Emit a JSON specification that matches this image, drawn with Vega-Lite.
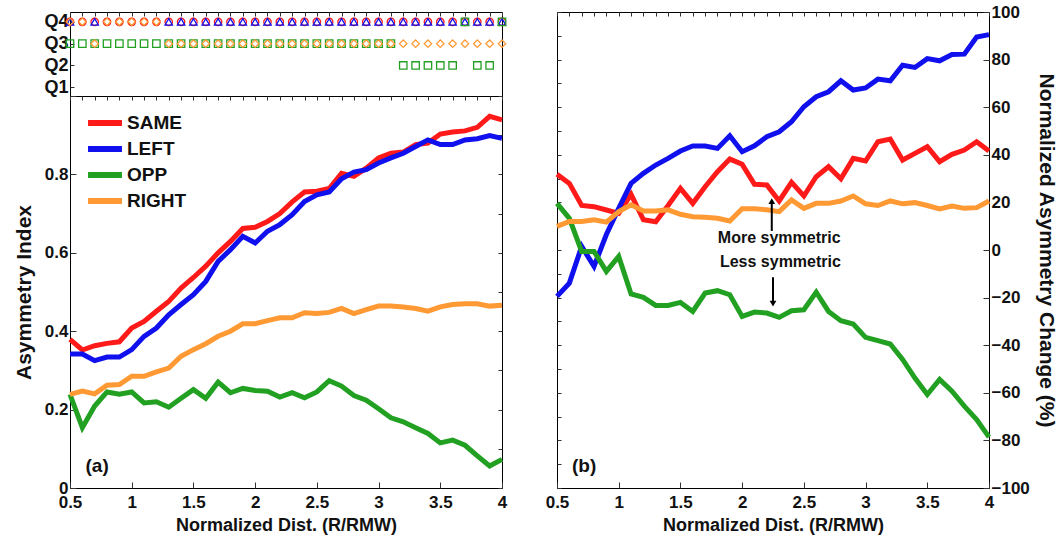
{
  "$schema": "https://vega.github.io/schema/vega-lite/v6.json",
  "autosize": {"type": "pad"},
  "padding": {"left": 12, "top": 2, "right": 4, "bottom": 3},
  "background": "white",
  "config": {
    "font": "Liberation Sans",
    "view": {"stroke": "#000", "strokeWidth": 1},
    "axis": {
      "labelFont": "Liberation Sans", "labelFontWeight": "bold", "labelFontSize": 17, "labelColor": "#111",
      "titleFont": "Liberation Sans", "titleFontWeight": "bold", "titleFontSize": 18, "titleColor": "#111",
      "grid": false, "domain": false, "tickColor": "#333", "tickSize": -6, "labelPadding": 8, "labelFlush": false
    },
    "axisX": {"labelPadding": 12},
    "axisY": {"titleFontSize": 21},
    "legend": {"labelFont": "Liberation Sans"}
  },
  "datasets": {
    "a": [
      {"x": 0.5, "SAME": 0.379, "LEFT": 0.342, "OPP": 0.239, "RIGHT": 0.239},
      {"x": 0.6, "SAME": 0.352, "LEFT": 0.342, "OPP": 0.154, "RIGHT": 0.247},
      {"x": 0.7, "SAME": 0.363, "LEFT": 0.325, "OPP": 0.209, "RIGHT": 0.240},
      {"x": 0.8, "SAME": 0.369, "LEFT": 0.334, "OPP": 0.245, "RIGHT": 0.262},
      {"x": 0.9, "SAME": 0.373, "LEFT": 0.334, "OPP": 0.239, "RIGHT": 0.264},
      {"x": 1.0, "SAME": 0.408, "LEFT": 0.353, "OPP": 0.245, "RIGHT": 0.285},
      {"x": 1.1, "SAME": 0.425, "LEFT": 0.387, "OPP": 0.217, "RIGHT": 0.285},
      {"x": 1.2, "SAME": 0.451, "LEFT": 0.408, "OPP": 0.220, "RIGHT": 0.296},
      {"x": 1.3, "SAME": 0.476, "LEFT": 0.442, "OPP": 0.206, "RIGHT": 0.306},
      {"x": 1.4, "SAME": 0.510, "LEFT": 0.468, "OPP": 0.229, "RIGHT": 0.336},
      {"x": 1.5, "SAME": 0.537, "LEFT": 0.493, "OPP": 0.251, "RIGHT": 0.353},
      {"x": 1.6, "SAME": 0.566, "LEFT": 0.527, "OPP": 0.229, "RIGHT": 0.368},
      {"x": 1.7, "SAME": 0.600, "LEFT": 0.578, "OPP": 0.270, "RIGHT": 0.387},
      {"x": 1.8, "SAME": 0.629, "LEFT": 0.608, "OPP": 0.243, "RIGHT": 0.400},
      {"x": 1.9, "SAME": 0.662, "LEFT": 0.642, "OPP": 0.254, "RIGHT": 0.419},
      {"x": 2.0, "SAME": 0.665, "LEFT": 0.625, "OPP": 0.249, "RIGHT": 0.419},
      {"x": 2.1, "SAME": 0.680, "LEFT": 0.655, "OPP": 0.247, "RIGHT": 0.427},
      {"x": 2.2, "SAME": 0.700, "LEFT": 0.672, "OPP": 0.232, "RIGHT": 0.434},
      {"x": 2.3, "SAME": 0.730, "LEFT": 0.697, "OPP": 0.243, "RIGHT": 0.434},
      {"x": 2.4, "SAME": 0.755, "LEFT": 0.731, "OPP": 0.230, "RIGHT": 0.447},
      {"x": 2.5, "SAME": 0.757, "LEFT": 0.748, "OPP": 0.245, "RIGHT": 0.445},
      {"x": 2.6, "SAME": 0.764, "LEFT": 0.755, "OPP": 0.274, "RIGHT": 0.448},
      {"x": 2.7, "SAME": 0.803, "LEFT": 0.789, "OPP": 0.260, "RIGHT": 0.458},
      {"x": 2.8, "SAME": 0.795, "LEFT": 0.806, "OPP": 0.236, "RIGHT": 0.445},
      {"x": 2.9, "SAME": 0.816, "LEFT": 0.812, "OPP": 0.224, "RIGHT": 0.455},
      {"x": 3.0, "SAME": 0.842, "LEFT": 0.829, "OPP": 0.202, "RIGHT": 0.464},
      {"x": 3.1, "SAME": 0.854, "LEFT": 0.842, "OPP": 0.179, "RIGHT": 0.464},
      {"x": 3.2, "SAME": 0.857, "LEFT": 0.854, "OPP": 0.169, "RIGHT": 0.462},
      {"x": 3.3, "SAME": 0.876, "LEFT": 0.871, "OPP": 0.154, "RIGHT": 0.458},
      {"x": 3.4, "SAME": 0.880, "LEFT": 0.888, "OPP": 0.139, "RIGHT": 0.451},
      {"x": 3.5, "SAME": 0.903, "LEFT": 0.876, "OPP": 0.115, "RIGHT": 0.462},
      {"x": 3.6, "SAME": 0.908, "LEFT": 0.876, "OPP": 0.122, "RIGHT": 0.468},
      {"x": 3.7, "SAME": 0.911, "LEFT": 0.888, "OPP": 0.109, "RIGHT": 0.470},
      {"x": 3.8, "SAME": 0.920, "LEFT": 0.891, "OPP": 0.082, "RIGHT": 0.470},
      {"x": 3.9, "SAME": 0.948, "LEFT": 0.899, "OPP": 0.056, "RIGHT": 0.464},
      {"x": 4.0, "SAME": 0.939, "LEFT": 0.892, "OPP": 0.073, "RIGHT": 0.466}
    ],
    "b": [
      {"x": 0.5, "SAME": 31.8, "LEFT": -19.5, "OPP": 19.6, "RIGHT": 9.9},
      {"x": 0.6, "SAME": 28.0, "LEFT": -13.9, "OPP": 13.3, "RIGHT": 12.0},
      {"x": 0.7, "SAME": 18.7, "LEFT": 1.5, "OPP": -0.6, "RIGHT": 12.0},
      {"x": 0.8, "SAME": 18.2, "LEFT": -6.9, "OPP": -0.6, "RIGHT": 12.7},
      {"x": 0.9, "SAME": 16.8, "LEFT": 6.5, "OPP": -9.0, "RIGHT": 11.7},
      {"x": 1.0, "SAME": 15.4, "LEFT": 17.5, "OPP": -2.7, "RIGHT": 16.1},
      {"x": 1.1, "SAME": 23.4, "LEFT": 28.0, "OPP": -18.5, "RIGHT": 19.0},
      {"x": 1.2, "SAME": 12.7, "LEFT": 32.2, "OPP": -19.9, "RIGHT": 16.4},
      {"x": 1.3, "SAME": 11.9, "LEFT": 35.7, "OPP": -23.3, "RIGHT": 16.4},
      {"x": 1.4, "SAME": 18.7, "LEFT": 38.5, "OPP": -23.3, "RIGHT": 16.9},
      {"x": 1.5, "SAME": 25.9, "LEFT": 41.6, "OPP": -22.0, "RIGHT": 15.0},
      {"x": 1.6, "SAME": 19.6, "LEFT": 43.7, "OPP": -25.8, "RIGHT": 14.0},
      {"x": 1.7, "SAME": 26.6, "LEFT": 43.7, "OPP": -18.1, "RIGHT": 13.8},
      {"x": 1.8, "SAME": 32.9, "LEFT": 42.7, "OPP": -17.1, "RIGHT": 13.3},
      {"x": 1.9, "SAME": 38.2, "LEFT": 48.0, "OPP": -18.8, "RIGHT": 12.2},
      {"x": 2.0, "SAME": 36.0, "LEFT": 41.3, "OPP": -27.9, "RIGHT": 17.3},
      {"x": 2.1, "SAME": 27.6, "LEFT": 43.8, "OPP": -26.1, "RIGHT": 17.3},
      {"x": 2.2, "SAME": 27.3, "LEFT": 47.6, "OPP": -26.5, "RIGHT": 16.9},
      {"x": 2.3, "SAME": 20.6, "LEFT": 49.7, "OPP": -28.3, "RIGHT": 16.1},
      {"x": 2.4, "SAME": 28.4, "LEFT": 53.9, "OPP": -25.5, "RIGHT": 21.0},
      {"x": 2.5, "SAME": 22.7, "LEFT": 60.2, "OPP": -25.1, "RIGHT": 17.5},
      {"x": 2.6, "SAME": 30.8, "LEFT": 64.4, "OPP": -17.7, "RIGHT": 19.6},
      {"x": 2.7, "SAME": 35.0, "LEFT": 66.5, "OPP": -25.8, "RIGHT": 19.6},
      {"x": 2.8, "SAME": 29.9, "LEFT": 71.1, "OPP": -29.7, "RIGHT": 20.6},
      {"x": 2.9, "SAME": 38.5, "LEFT": 67.2, "OPP": -31.1, "RIGHT": 22.7},
      {"x": 3.0, "SAME": 37.4, "LEFT": 68.1, "OPP": -36.7, "RIGHT": 19.4},
      {"x": 3.1, "SAME": 45.5, "LEFT": 71.8, "OPP": -38.1, "RIGHT": 18.7},
      {"x": 3.2, "SAME": 46.6, "LEFT": 71.1, "OPP": -39.5, "RIGHT": 20.6},
      {"x": 3.3, "SAME": 37.8, "LEFT": 77.6, "OPP": -46.0, "RIGHT": 19.4},
      {"x": 3.4, "SAME": 40.6, "LEFT": 76.7, "OPP": -53.8, "RIGHT": 19.9},
      {"x": 3.5, "SAME": 43.4, "LEFT": 80.4, "OPP": -60.7, "RIGHT": 18.7},
      {"x": 3.6, "SAME": 37.1, "LEFT": 79.5, "OPP": -54.4, "RIGHT": 17.3},
      {"x": 3.7, "SAME": 40.2, "LEFT": 82.1, "OPP": -59.3, "RIGHT": 18.5},
      {"x": 3.8, "SAME": 42.0, "LEFT": 82.3, "OPP": -65.6, "RIGHT": 17.5},
      {"x": 3.9, "SAME": 45.5, "LEFT": 89.5, "OPP": -71.2, "RIGHT": 17.8},
      {"x": 4.0, "SAME": 41.6, "LEFT": 90.5, "OPP": -78.6, "RIGHT": 20.6}
    ],
    "q": [
      {"x": 0.5, "SAME": 4, "LEFT": 4, "OPP": 3, "RIGHT": 4},
      {"x": 0.6, "SAME": 4, "LEFT": null, "OPP": 3, "RIGHT": 4},
      {"x": 0.7, "SAME": 4, "LEFT": 4, "OPP": 3, "RIGHT": 3},
      {"x": 0.8, "SAME": 4, "LEFT": null, "OPP": 3, "RIGHT": 4},
      {"x": 0.9, "SAME": 4, "LEFT": null, "OPP": 3, "RIGHT": 4},
      {"x": 1.0, "SAME": 4, "LEFT": null, "OPP": 3, "RIGHT": 4},
      {"x": 1.1, "SAME": 4, "LEFT": null, "OPP": 3, "RIGHT": 4},
      {"x": 1.2, "SAME": 4, "LEFT": null, "OPP": 3, "RIGHT": 4},
      {"x": 1.3, "SAME": 4, "LEFT": 4, "OPP": 3, "RIGHT": 3},
      {"x": 1.4, "SAME": 4, "LEFT": 4, "OPP": 3, "RIGHT": 3},
      {"x": 1.5, "SAME": 4, "LEFT": 4, "OPP": 3, "RIGHT": 3},
      {"x": 1.6, "SAME": 4, "LEFT": 4, "OPP": 3, "RIGHT": 3},
      {"x": 1.7, "SAME": 4, "LEFT": 4, "OPP": 3, "RIGHT": 3},
      {"x": 1.8, "SAME": 4, "LEFT": 4, "OPP": 3, "RIGHT": 3},
      {"x": 1.9, "SAME": 4, "LEFT": 4, "OPP": 3, "RIGHT": 3},
      {"x": 2.0, "SAME": 4, "LEFT": 4, "OPP": 3, "RIGHT": 3},
      {"x": 2.1, "SAME": 4, "LEFT": 4, "OPP": 3, "RIGHT": 3},
      {"x": 2.2, "SAME": 4, "LEFT": 4, "OPP": 3, "RIGHT": 3},
      {"x": 2.3, "SAME": 4, "LEFT": 4, "OPP": 3, "RIGHT": 3},
      {"x": 2.4, "SAME": 4, "LEFT": 4, "OPP": 3, "RIGHT": 3},
      {"x": 2.5, "SAME": 4, "LEFT": 4, "OPP": 3, "RIGHT": 3},
      {"x": 2.6, "SAME": 4, "LEFT": 4, "OPP": 3, "RIGHT": 3},
      {"x": 2.7, "SAME": 4, "LEFT": 4, "OPP": 3, "RIGHT": 3},
      {"x": 2.8, "SAME": 4, "LEFT": 4, "OPP": 3, "RIGHT": 3},
      {"x": 2.9, "SAME": 4, "LEFT": 4, "OPP": 3, "RIGHT": 3},
      {"x": 3.0, "SAME": 4, "LEFT": 4, "OPP": 3, "RIGHT": 3},
      {"x": 3.1, "SAME": 4, "LEFT": 4, "OPP": 3, "RIGHT": 3},
      {"x": 3.2, "SAME": 4, "LEFT": 4, "OPP": 2, "RIGHT": 3},
      {"x": 3.3, "SAME": 4, "LEFT": 4, "OPP": 2, "RIGHT": 3},
      {"x": 3.4, "SAME": 4, "LEFT": 4, "OPP": 2, "RIGHT": 3},
      {"x": 3.5, "SAME": 4, "LEFT": 4, "OPP": 2, "RIGHT": 3},
      {"x": 3.6, "SAME": 4, "LEFT": 4, "OPP": 2, "RIGHT": 3},
      {"x": 3.7, "SAME": 4, "LEFT": 4, "OPP": 4, "RIGHT": 3},
      {"x": 3.8, "SAME": 4, "LEFT": 4, "OPP": 2, "RIGHT": 3},
      {"x": 3.9, "SAME": 4, "LEFT": 4, "OPP": 2, "RIGHT": 3},
      {"x": 4.0, "SAME": 4, "LEFT": 4, "OPP": 4, "RIGHT": 3}
    ]
  },
  "spacing": 31,
  "resolve": {"scale": {"color": "independent", "shape": "independent", "x": "independent", "y": "independent"}},
  "hconcat": [
    {
      "spacing": 0,
      "bounds": "flush",
      "resolve": {"scale": {"color": "independent", "shape": "independent", "x": "independent", "y": "independent"}},
      "vconcat": [
        {
          "width": 432,
          "height": 84,
          "data": {"name": "q"},
          "transform": [
            {"fold": ["SAME", "LEFT", "OPP", "RIGHT"], "as": ["series", "q"]},
            {"filter": "isValid(datum.q)"}
          ],
          "mark": {"type": "point", "filled": false, "size": 55, "strokeWidth": 1.3, "opacity": 1},
          "encoding": {
            "x": {"field": "x", "type": "quantitative", "scale": {"domain": [0.5, 4], "nice": false, "zero": false},
                  "axis": {"orient": "top", "labels": false, "title": null, "tickSize": -4,
                           "values": [0.5, 0.6, 0.7, 0.8, 0.9, 1, 1.1, 1.2, 1.3, 1.4, 1.5, 1.6, 1.7, 1.8, 1.9, 2, 2.1, 2.2, 2.3, 2.4, 2.5, 2.6, 2.7, 2.8, 2.9, 3, 3.1, 3.2, 3.3, 3.4, 3.5, 3.6, 3.7, 3.8, 3.9, 4]}},
            "y": {"field": "q", "type": "quantitative", "scale": {"domain": [0.6, 4.45], "nice": false, "zero": false},
                  "axis": {"values": [1, 2, 3, 4], "labelExpr": "'Q' + datum.value", "title": null, "labelFontSize": 18, "labelPadding": 6, "tickSize": -4}},
            "color": {"field": "series", "type": "nominal", "legend": null,
                      "scale": {"domain": ["SAME", "LEFT", "OPP", "RIGHT"], "range": ["#ff1a1a", "#1010ee", "#22a022", "#ff9933"]}},
            "shape": {"field": "series", "type": "nominal", "legend": null,
                      "scale": {"domain": ["SAME", "LEFT", "OPP", "RIGHT"], "range": ["circle", "triangle-up", "square", "diamond"]}}
          }
        },
        {
          "width": 432,
          "height": 392,
          "layer": [
            {
              "data": {"name": "a"},
              "transform": [{"fold": ["SAME", "LEFT", "OPP", "RIGHT"], "as": ["series", "value"]}],
              "mark": {"type": "line", "strokeWidth": 5, "strokeJoin": "miter"},
              "encoding": {
                "x": {"field": "x", "type": "quantitative", "scale": {"domain": [0.5, 4], "nice": false, "zero": false},
                      "axis": {"values": [0.5, 1, 1.5, 2, 2.5, 3, 3.5, 4], "format": "~g", "title": "Normalized Dist. (R/RMW)", "titlePadding": 6}},
                "y": {"field": "value", "type": "quantitative", "scale": {"domain": [0, 1], "nice": false},
                      "axis": {"values": [0, 0.2, 0.4, 0.6, 0.8, 1], "labelExpr": "datum.value == 1 ? '' : format(datum.value, '~g')", "title": "Asymmetry Index", "titlePadding": 10}},
                "color": {"field": "series", "type": "nominal", "sort": ["SAME", "LEFT", "OPP", "RIGHT"],
                          "scale": {"domain": ["SAME", "LEFT", "OPP", "RIGHT"], "range": ["#ff1a1a", "#1010ee", "#22a022", "#ff9933"]},
                          "legend": {"orient": "none", "legendX": 21, "legendY": 13, "title": null, "symbolType": "M-1.6,0H1.6", "symbolStrokeWidth": 6, "symbolSize": 450,
                                     "labelFontSize": 19, "labelFontWeight": "bold", "labelColor": "#111", "labelOffset": 8, "padding": 0, "rowPadding": -4}}
              }
            },
            {
              "data": {"values": [{"label": "(a)", "x": 0.72, "y": 0.056}]},
              "mark": {"type": "text", "fontSize": 19, "fontWeight": "bold", "font": "Liberation Sans", "color": "#111"},
              "encoding": {
                "x": {"field": "x", "type": "quantitative", "axis": {"orient": "top", "labels": false, "title": null, "tickSize": -4,
                      "values": [0.5, 0.6, 0.7, 0.8, 0.9, 1, 1.1, 1.2, 1.3, 1.4, 1.5, 1.6, 1.7, 1.8, 1.9, 2, 2.1, 2.2, 2.3, 2.4, 2.5, 2.6, 2.7, 2.8, 2.9, 3, 3.1, 3.2, 3.3, 3.4, 3.5, 3.6, 3.7, 3.8, 3.9, 4]}},
                "y": {"field": "y", "type": "quantitative", "axis": {"orient": "right", "labels": false, "title": null, "tickSize": -4,
                      "values": [0, 0.1, 0.2, 0.3, 0.4, 0.5, 0.6, 0.7, 0.8, 0.9, 1]}},
                "text": {"field": "label"}
              }
            }
          ],
          "resolve": {"axis": {"x": "independent", "y": "independent"}}
        }
      ]
    },
    {
      "width": 432,
      "height": 476,
      "layer": [
        {
          "mark": {"type": "rule", "color": "#000", "strokeWidth": 1},
          "encoding": {"y": {"datum": 0, "type": "quantitative", "axis": null}}
        },
        {
          "data": {"name": "b"},
          "transform": [{"fold": ["SAME", "LEFT", "OPP", "RIGHT"], "as": ["series", "value"]}],
          "mark": {"type": "line", "strokeWidth": 5, "strokeJoin": "miter"},
          "encoding": {
            "x": {"field": "x", "type": "quantitative", "scale": {"domain": [0.5, 4], "nice": false, "zero": false},
                  "axis": {"values": [0.5, 1, 1.5, 2, 2.5, 3, 3.5, 4], "format": "~g", "title": "Normalized Dist. (R/RMW)", "titlePadding": 6}},
            "y": {"field": "value", "type": "quantitative", "scale": {"domain": [-100, 100], "nice": false},
                  "axis": {"orient": "right", "values": [-100, -80, -60, -40, -20, 0, 20, 40, 60, 80, 100], "format": "d", "title": "Normalized Asymmetry Change (%)", "titlePadding": 6}},
            "color": {"field": "series", "type": "nominal", "legend": null,
                      "scale": {"domain": ["SAME", "LEFT", "OPP", "RIGHT"], "range": ["#ff1a1a", "#1010ee", "#22a022", "#ff9933"]}}
          }
        },
        {
          "data": {"values": [
            {"label": "More symmetric", "x": 2.3, "y": 5.2},
            {"label": "Less symmetric", "x": 2.31, "y": -5.0}
          ]},
          "mark": {"type": "text", "fontSize": 16, "fontWeight": "bold", "font": "Liberation Sans", "color": "#111"},
          "encoding": {
            "x": {"field": "x", "type": "quantitative", "axis": {"orient": "top", "labels": false, "title": null, "tickSize": -4,
                  "values": [0.5, 0.6, 0.7, 0.8, 0.9, 1, 1.1, 1.2, 1.3, 1.4, 1.5, 1.6, 1.7, 1.8, 1.9, 2, 2.1, 2.2, 2.3, 2.4, 2.5, 2.6, 2.7, 2.8, 2.9, 3, 3.1, 3.2, 3.3, 3.4, 3.5, 3.6, 3.7, 3.8, 3.9, 4]}},
            "y": {"field": "y", "type": "quantitative", "axis": {"orient": "left", "labels": false, "title": null, "tickSize": -4,
                  "values": [-100, -90, -80, -70, -60, -50, -40, -30, -20, -10, 0, 10, 20, 30, 40, 50, 60, 70, 80, 90, 100]}},
            "text": {"field": "label"}
          }
        },
        {
          "data": {"values": [
            {"x": 2.24, "y": 8.0, "y2": 19.5},
            {"x": 2.25, "y": -11.5, "y2": -21.5}
          ]},
          "mark": {"type": "rule", "color": "#000", "strokeWidth": 2},
          "encoding": {
            "x": {"field": "x", "type": "quantitative", "axis": null},
            "y": {"field": "y", "type": "quantitative", "axis": null},
            "y2": {"field": "y2"}
          }
        },
        {
          "data": {"values": [
            {"x": 2.24, "y": 20.5, "dir": "up"},
            {"x": 2.25, "y": -22.5, "dir": "down"}
          ]},
          "mark": {"type": "point", "filled": true, "size": 45, "color": "#000", "opacity": 1},
          "encoding": {
            "x": {"field": "x", "type": "quantitative", "axis": null},
            "y": {"field": "y", "type": "quantitative", "axis": null},
            "shape": {"field": "dir", "type": "nominal", "legend": null,
                      "scale": {"domain": ["up", "down"], "range": ["triangle-up", "triangle-down"]}}
          }
        },
        {
          "data": {"values": [{"label": "(b)", "x": 0.72, "y": -90.8}]},
          "mark": {"type": "text", "fontSize": 19, "fontWeight": "bold", "font": "Liberation Sans", "color": "#111"},
          "encoding": {
            "x": {"field": "x", "type": "quantitative", "axis": null},
            "y": {"field": "y", "type": "quantitative", "axis": null},
            "text": {"field": "label"}
          }
        }
      ],
      "resolve": {"axis": {"x": "independent", "y": "independent"}}
    }
  ]
}
